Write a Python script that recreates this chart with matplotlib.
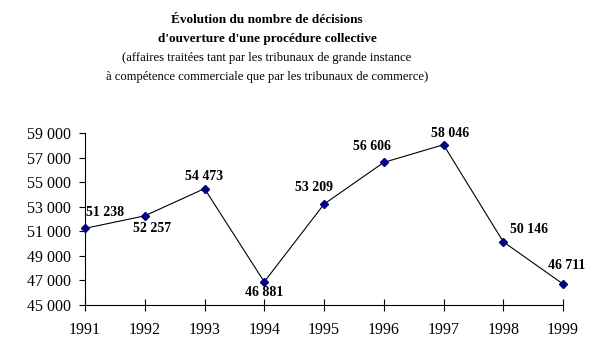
import matplotlib
matplotlib.use("Agg")
import matplotlib.pyplot as plt
from matplotlib.ticker import FuncFormatter

years = [1991, 1992, 1993, 1994, 1995, 1996, 1997, 1998, 1999]
values = [51238, 52257, 54473, 46881, 53209, 56606, 58046, 50146, 46711]
label_offsets = [(20, 16), (7, -13), (0, 12), (0, -11), (-10, 17), (-12, 16), (7, 11), (26, 12), (4, 18)]
yticks = [45000, 47000, 49000, 51000, 53000, 55000, 57000, 59000]

plt.rcParams['font.family'] = ['Liberation Serif', 'DejaVu Serif']

def fmt(v):
    return f"{int(v):,}".replace(",", " ")

fig = plt.figure(figsize=(6.02, 3.49), dpi=100)
ax = fig.add_axes([85/602, 1-305/349, (563-85)/602, (305-133)/349])

ax.plot(years, values, color='black', lw=0.8, marker='D', markersize=4,
        markerfacecolor='#000080', markeredgecolor='#000080', clip_on=False, zorder=3)

for x, y, (dx, dy) in zip(years, values, label_offsets):
    ax.annotate(fmt(y), (x, y), xytext=(dx, dy), textcoords='offset pixels',
                ha='center', va='center', fontsize=10, fontweight='bold')

ax.set_xlim(1991, 1999)
ax.set_ylim(45000, 59000)
ax.set_xticks(years)
ax.set_yticks(yticks)
ax.yaxis.set_major_formatter(FuncFormatter(lambda v, p: fmt(v)))
for s in ['top', 'right']:
    ax.spines[s].set_visible(False)
for s in ['left', 'bottom']:
    ax.spines[s].set_linewidth(0.8)
ax.tick_params(axis='x', direction='inout', length=8, width=0.8, labelsize=11.5, pad=8)
ax.tick_params(axis='y', direction='out', length=4, width=0.8, labelsize=11.5, pad=6)

cx = 267/602
fig.text(cx, 1-20/349, "Évolution du nombre de décisions", ha='center', va='center',
         fontsize=9.5, fontweight='bold')
fig.text(cx, 1-39/349, "d'ouverture d'une procédure collective", ha='center', va='center',
         fontsize=9.5, fontweight='bold')
fig.text(cx, 1-58/349, "(affaires traitées tant par les tribunaux de grande instance", ha='center', va='center',
         fontsize=9.1)
fig.text(cx, 1-77/349, "à compétence commerciale que par les tribunaux de commerce)", ha='center', va='center',
         fontsize=9.1)

fig.savefig("out.png", dpi=100)
